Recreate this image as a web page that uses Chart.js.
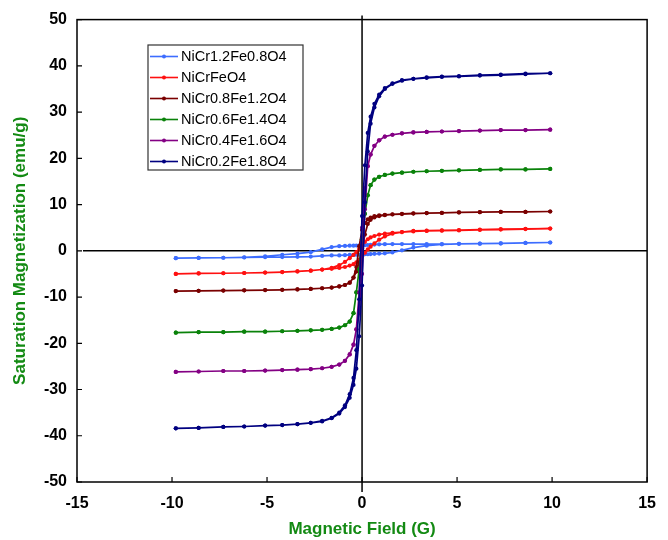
<!DOCTYPE html>
<html>
<head>
<meta charset="utf-8">
<title>Hysteresis loops</title>
<script src="https://cdn.jsdelivr.net/npm/chart.js@4.4.1/dist/chart.umd.min.js"></script>
<style>
  html, body { margin: 0; padding: 0; background: #fff; }
  #wrap { width: 668px; height: 540px; }
</style>
</head>
<body>
<div id="wrap"><canvas id="myChart" width="668" height="540"></canvas></div>
<script>
// applied field (kOe) for the descending sweep (+10 -> -10) and the return sweep
const fieldDown = [9.9, 8.6, 7.3, 6.2, 5.1, 4.2, 3.4, 2.7, 2.1, 1.6, 1.2, 0.9, 0.65, 0.45, 0.3, 0.15, 0,
  -0.15, -0.3, -0.45, -0.65, -0.9, -1.2, -1.6, -2.1, -2.7, -3.4, -4.2, -5.1, -6.2, -7.3, -8.6, -9.8];
const fieldUp = [-9.8, -8.6, -7.3, -6.2, -5.1, -4.2, -3.4, -2.7, -2.1, -1.6, -1.2, -0.9, -0.65, -0.45, -0.3, -0.15, 0,
  0.15, 0.3, 0.45, 0.65, 0.9, 1.2, 1.6, 2.1, 2.7, 3.4, 4.2, 5.1, 6.2, 7.3, 8.6, 9.9];

// magnetization (emu/g) on each sweep
const cr12Down = [1.8, 1.7, 1.6, 1.55, 1.5, 1.47, 1.46, 1.45, 1.45, 1.45, 1.44, 1.4, 1.35, 1.3, 1.25, 1.2, 1.2,
  1.15, 1.15, 1.1, 1.1, 1.05, 1.0, 0.8, 0.3, -0.3, -0.6, -0.85, -1.2, -1.4, -1.5, -1.55, -1.6];
const cr12Up = [-1.6, -1.55, -1.5, -1.45, -1.4, -1.35, -1.3, -1.25, -1.1, -1.0, -1.0, -0.95, -0.9, -0.9, -0.85, -0.85, -0.8,
  -0.75, -0.75, -0.7, -0.65, -0.6, -0.55, -0.35, 0.1, 0.7, 1.1, 1.4, 1.5, 1.55, 1.6, 1.7, 1.8];

const cr10Down = [4.8, 4.7, 4.6, 4.5, 4.4, 4.35, 4.3, 4.2, 4.05, 3.9, 3.7, 3.5, 3.2, 2.9, 2.5, 1.9, 1.2,
  0.4, -0.3, -0.9, -1.6, -2.4, -3.1, -3.7, -4.05, -4.3, -4.45, -4.6, -4.7, -4.8, -4.85, -4.9, -5.0];
const cr10Up = [-5.0, -4.9, -4.85, -4.8, -4.7, -4.6, -4.45, -4.3, -4.05, -3.9, -3.7, -3.5, -3.2, -2.9, -2.5, -1.9, -1.2,
  -0.4, 0.3, 0.9, 1.6, 2.4, 3.1, 3.7, 4.05, 4.3, 4.35, 4.4, 4.5, 4.6, 4.7, 4.75, 4.8];

const cr08Down = [8.5, 8.4, 8.4, 8.35, 8.3, 8.2, 8.15, 8.1, 8.0, 7.9, 7.8, 7.65, 7.5, 7.2, 6.8, 6.0, 4.5,
  1.0, -3.5, -5.8, -6.9, -7.4, -7.7, -7.95, -8.1, -8.25, -8.35, -8.45, -8.5, -8.55, -8.6, -8.65, -8.7];
const cr08Up = [-8.7, -8.65, -8.6, -8.55, -8.5, -8.45, -8.35, -8.25, -8.1, -7.95, -7.7, -7.4, -6.9, -5.8, -4.5, -2.5, 0.5,
  3.5, 5.8, 6.7, 7.2, 7.5, 7.7, 7.85, 7.95, 8.05, 8.15, 8.2, 8.3, 8.35, 8.4, 8.4, 8.5];

const cr06Down = [17.7, 17.6, 17.6, 17.5, 17.4, 17.3, 17.2, 17.1, 16.9, 16.7, 16.4, 16.0, 15.4, 14.2, 12.0, 8.0, 2.5,
  -4.0, -9.0, -13.5, -15.3, -16.1, -16.6, -16.9, -17.1, -17.2, -17.3, -17.4, -17.5, -17.5, -17.6, -17.6, -17.7];
const cr06Up = [-17.7, -17.6, -17.6, -17.5, -17.5, -17.4, -17.3, -17.2, -17.1, -16.9, -16.6, -16.1, -15.3, -13.5, -9.0, -4.0, 2.5,
  8.0, 12.0, 14.2, 15.4, 16.0, 16.4, 16.7, 16.9, 17.1, 17.2, 17.3, 17.4, 17.5, 17.6, 17.6, 17.7];

const cr04Down = [26.2, 26.1, 26.1, 26.0, 25.9, 25.8, 25.7, 25.6, 25.4, 25.1, 24.7, 23.9, 22.7, 20.8, 18.3, 13.5, 5.0,
  -9.0, -17.0, -20.3, -22.4, -23.8, -24.6, -25.1, -25.4, -25.6, -25.7, -25.8, -25.9, -26.0, -26.0, -26.1, -26.2];
const cr04Up = [-26.2, -26.1, -26.0, -26.0, -25.9, -25.8, -25.7, -25.6, -25.4, -25.1, -24.6, -23.8, -22.4, -20.3, -17.0, -13.5, -5.0,
  9.0, 18.3, 20.8, 22.7, 23.9, 24.7, 25.1, 25.4, 25.6, 25.7, 25.8, 25.9, 26.0, 26.1, 26.1, 26.2];

const cr02Down = [38.4, 38.2, 38.0, 37.9, 37.7, 37.6, 37.4, 37.2, 36.9, 36.2, 35.2, 33.8, 31.8, 29.0, 25.5, 18.5, 7.5,
  -10.5, -21.5, -27.5, -31.0, -33.4, -35.0, -36.1, -36.8, -37.2, -37.5, -37.7, -37.8, -38.0, -38.1, -38.3, -38.4];
const cr02Up = [-38.4, -38.3, -38.1, -38.0, -37.8, -37.7, -37.5, -37.2, -36.9, -36.2, -35.2, -33.8, -31.8, -29.0, -25.5, -18.5, -7.5,
  10.5, 21.5, 27.5, 31.0, 33.4, 35.0, 36.1, 36.8, 37.2, 37.5, 37.7, 37.8, 38.0, 38.1, 38.3, 38.4];

const names = ["NiCr1.2Fe0.8O4", "NiCrFeO4", "NiCr0.8Fe1.2O4", "NiCr0.6Fe1.4O4", "NiCr0.4Fe1.6O4", "NiCr0.2Fe1.8O4"];
const colors = ["#3d6dff", "#ff1010", "#7a0000", "#0a820a", "#840084", "#000080"];
const loops = [
  [cr12Down, cr12Up], [cr10Down, cr10Up], [cr08Down, cr08Up],
  [cr06Down, cr06Up], [cr04Down, cr04Up], [cr02Down, cr02Up]
];

const xTicks = [-15, -10, -5, 0, 5, 10, 15];
const yTicks = [-50, -40, -30, -20, -10, 0, 10, 20, 30, 40, 50];
const titleGreen = "#138a13";

function loopPoints(down, up) {
  const pts = [];
  for (let i = 0; i < fieldDown.length; i++) pts.push({ x: fieldDown[i], y: down[i] });
  for (let i = 0; i < fieldUp.length; i++) pts.push({ x: fieldUp[i], y: up[i] });
  return pts;
}

const datasets = loops.map(function (l, i) {
  return {
    label: names[i],
    data: loopPoints(l[0], l[1]),
    showLine: true,
    borderColor: colors[i],
    backgroundColor: colors[i],
    borderWidth: 1.7,
    pointRadius: 2.1,
    pointBorderWidth: 0,
    tension: 0,
    order: 6 - i
  };
});

// frame, crossing zero axes and inward tick marks
const framePlugin = {
  id: "frame",
  beforeDatasetsDraw(chart) {
    const ctx = chart.ctx;
    const a = chart.chartArea;
    const xs = chart.scales.x;
    const ys = chart.scales.y;
    const x0 = xs.getPixelForValue(0);
    const y0 = ys.getPixelForValue(0);
    ctx.save();
    ctx.strokeStyle = "#000";
    ctx.lineWidth = 1.5;
    ctx.beginPath();
    ctx.moveTo(x0, a.top - 4);
    ctx.lineTo(x0, a.bottom + 10);
    ctx.moveTo(a.left + 6, y0);
    ctx.lineTo(a.right, y0);
    ctx.stroke();
    ctx.strokeRect(a.left, a.top, a.right - a.left, a.bottom - a.top);
    ctx.lineWidth = 1.2;
    ctx.beginPath();
    xTicks.forEach(function (v) {
      const px = xs.getPixelForValue(v);
      ctx.moveTo(px, a.bottom);
      ctx.lineTo(px, a.bottom - 5);
    });
    yTicks.forEach(function (v) {
      const py = ys.getPixelForValue(v);
      ctx.moveTo(a.left, py);
      ctx.lineTo(a.left + 5, py);
    });
    ctx.stroke();
    ctx.restore();
  }
};

// boxed legend in the upper left of the plot
const legendBox = {
  id: "legendBox",
  afterDraw(chart) {
    const ctx = chart.ctx;
    const left = 148, top = 45, w = 155, h = 125, row = 21;
    ctx.save();
    ctx.fillStyle = "#fff";
    ctx.fillRect(left, top, w, h);
    ctx.strokeStyle = "#333";
    ctx.lineWidth = 1.2;
    ctx.strokeRect(left, top, w, h);
    ctx.font = "14.5px 'Liberation Sans', Arial, sans-serif";
    ctx.textBaseline = "middle";
    chart.data.datasets.forEach(function (ds, i) {
      const y = top + 11.5 + i * row;
      ctx.strokeStyle = ds.borderColor;
      ctx.lineWidth = 1.6;
      ctx.beginPath();
      ctx.moveTo(left + 2, y);
      ctx.lineTo(left + 30, y);
      ctx.stroke();
      ctx.fillStyle = ds.borderColor;
      ctx.beginPath();
      ctx.arc(left + 16, y, 2, 0, Math.PI * 2);
      ctx.fill();
      ctx.fillStyle = "#000";
      ctx.fillText(ds.label, left + 33, y + 0.5);
    });
    ctx.restore();
  }
};

const ctx = document.getElementById("myChart").getContext("2d");
const myChart = new Chart(ctx, {
  type: "scatter",
  data: { datasets: datasets },
  options: {
    responsive: false,
    animation: false,
    layout: { padding: { top: 16, right: 12, left: 0, bottom: 0 } },
    plugins: {
      legend: { display: false },
      tooltip: { enabled: false }
    },
    scales: {
      x: {
        type: "linear",
        min: -15,
        max: 15,
        afterBuildTicks: function (scale) {
          scale.ticks = xTicks.map(function (v) { return { value: v }; });
        },
        afterFit: function (scale) { scale.height = 58; },
        grid: { display: false, drawTicks: false },
        border: { display: false },
        ticks: {
          padding: 12,
          color: "#000",
          font: { family: "'Liberation Sans', Arial, sans-serif", size: 16, weight: "bold" }
        },
        title: {
          display: true,
          text: "Magnetic Field (G)",
          color: titleGreen,
          padding: { top: 0, bottom: 0 },
          font: { family: "'Liberation Sans', Arial, sans-serif", size: 17, weight: "bold" }
        }
      },
      y: {
        type: "linear",
        min: -50,
        max: 50,
        afterBuildTicks: function (scale) {
          scale.ticks = yTicks.map(function (v) { return { value: v }; });
        },
        afterFit: function (scale) { scale.width = 77; },
        grid: { display: false, drawTicks: false },
        border: { display: false },
        ticks: {
          padding: 10,
          color: "#000",
          font: { family: "'Liberation Sans', Arial, sans-serif", size: 16, weight: "bold" }
        },
        title: {
          display: true,
          text: "Saturation Magnetization (emu/g)",
          color: titleGreen,
          padding: { top: 10, bottom: 0 },
          font: { family: "'Liberation Sans', Arial, sans-serif", size: 17, weight: "bold" }
        }
      }
    }
  },
  plugins: [framePlugin, legendBox]
});
</script>
</body>
</html>
